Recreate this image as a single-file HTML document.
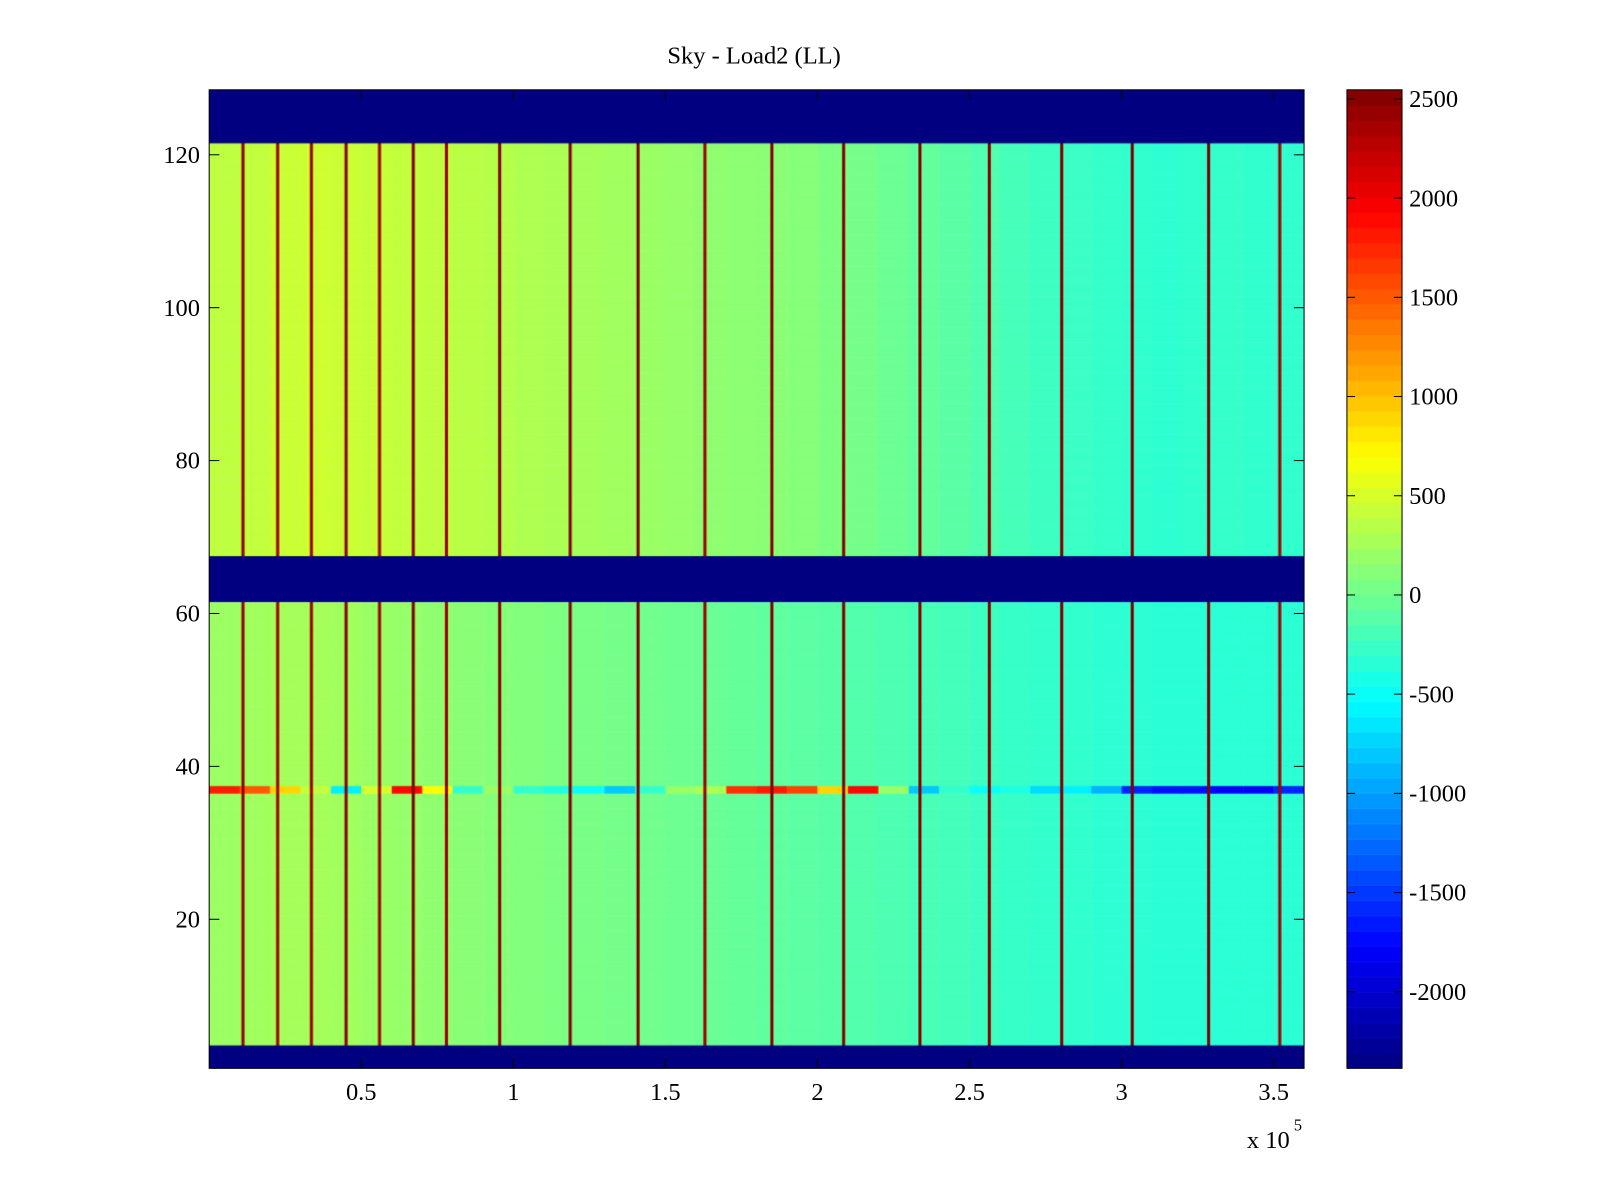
<!DOCTYPE html>
<html><head><meta charset="utf-8"><style>
body{margin:0;background:#fff;font-family:"Liberation Serif",serif;overflow:hidden}
#outer{width:1600px;height:1200px;overflow:hidden;position:relative}
#wrap{position:absolute;left:0;top:0;width:1600px;height:1200px;transform:scale(1.0204);transform-origin:0 0}
.t{position:absolute;font-size:24px;color:#000;white-space:nowrap}
</style></head><body>
<div id="outer">
<div id="wrap">
<div class="t" style="left:0;width:1478px;text-align:center;top:42px">Sky - Load2 (LL)</div>
<canvas id="hm" width="1073" height="959" style="position:absolute;left:205px;top:88px"></canvas>
<canvas id="cb" width="54" height="959" style="position:absolute;left:1320px;top:88px"></canvas>
<svg id="ax" width="1600" height="1200" style="position:absolute;left:0;top:0"></svg>
</div></div>
<script>
// ---- data ----
const xTicks=[0.5,1,1.5,2,2.5,3,3.5];
const yTicks=[20,40,60,80,100,120];
const cbTicks=[2500,2000,1500,1000,500,0,-500,-1000,-1500,-2000];
const maskedRowRanges=[[1,3],[62,67],[122,128]];
const upperLevels=[380,400,440,460,440,420,400,390,360,340,310,290,260,240,210,190,160,140,130,110,70,30,-20,-60,-100,-150,-200,-240,-250,-280,-300,-320,-300,-280,-300,-300];
const lowerLevels=[220,240,260,260,240,210,190,160,130,110,90,70,50,30,10,-10,-30,-50,-70,-90,-110,-140,-170,-190,-210,-240,-270,-290,-300,-320,-320,-340,-340,-330,-330,-330];
const row37=[1800,1500,900,400,-600,500,1900,700,-300,200,-300,-400,-500,-800,-300,200,300,1700,1800,1600,900,1900,200,-800,-300,-500,-400,-700,-600,-900,-1600,-1700,-1700,-1800,-1800,-1600];
const stripeX=[0.111,0.225,0.336,0.45,0.56,0.671,0.78,0.955,1.187,1.41,1.63,1.85,2.086,2.337,2.565,2.803,3.035,3.286,3.52];
const stripeVal=[2450,2400,2400,2500,2400,2546,2400,2500,2546,2546,2400,2500,2546,2500,2500,2500,2546,2546,2400];
// ---- scales ----
const X0=205,X1=1278,Y0=88,Y1=1047,XMAX=3.6,YMIN=0.5,YMAX=128.5,VMIN=-2386,VMAX=2546;
const sx=v=>X0+(v/XMAX)*(X1-X0);
const sy=v=>Y1-(v-YMIN)/(YMAX-YMIN)*(Y1-Y0);
function jet(t){t=Math.max(0,Math.min(1,t));
 const f=x=>Math.max(0,Math.min(1,x));
 const r=f(Math.min(4*t-1.5,-4*t+4.5)),g=f(Math.min(4*t-0.5,-4*t+3.5)),b=f(Math.min(4*t+0.5,-4*t+2.5));
 return `rgb(${Math.round(r*255)},${Math.round(g*255)},${Math.round(b*255)})`;}
const col=v=>jet((v-VMIN)/(VMAX-VMIN));
// ---- heatmap ----
const ctx=document.getElementById('hm').getContext('2d');
for(let r=1;r<=128;r++){
 const yt=sy(r+0.5)-Y0,yb=sy(r-0.5)-Y0;
 for(let c=0;c<36;c++){
  const xl=sx(c*0.1)-X0,xr=sx((c+1)*0.1)-X0;
  let v=r>67?upperLevels[c]:lowerLevels[c];
  if(r===37)v=row37[c];
  ctx.fillStyle=col(v);ctx.fillRect(xl,yt,xr-xl+0.5,yb-yt+0.5);
 }
}
stripeX.forEach((x,i)=>{ctx.fillStyle=col(stripeVal[i]);ctx.fillRect(sx(x)-X0-1.5,0,3,959);});
maskedRowRanges.forEach(([a,b])=>{ctx.fillStyle=col(VMIN);const yt=sy(b+0.5)-Y0,yb=sy(a-0.5)-Y0;ctx.fillRect(0,yt,1073,yb-yt);});
// ---- colorbar ----
const cb=document.getElementById('cb').getContext('2d');
for(let i=0;i<64;i++){const h=959/64;cb.fillStyle=jet((i+0.5)/64);cb.fillRect(0,959-(i+1)*h,54,h+0.5);}
// ---- axes ----
const svg=document.getElementById('ax');const NS='http://www.w3.org/2000/svg';
function el(tag,attrs,txt){const e=document.createElementNS(NS,tag);for(const k in attrs)e.setAttribute(k,attrs[k]);if(txt!==undefined)e.textContent=txt;svg.appendChild(e);return e;}
let e=el('rect',{x:X0,y:Y0,width:X1-X0,height:Y1-Y0,fill:'none',stroke:'#000','stroke-width':1});


xTicks.forEach(t=>{const x=sx(t);
 el('line',{x1:x,x2:x,y1:Y1,y2:Y1-10,stroke:'#000'});el('line',{x1:x,x2:x,y1:Y0,y2:Y0+10,stroke:'#000'});
 const tx=el('text',{x:x,y:1078,'text-anchor':'middle','font-size':24,'font-family':'Liberation Serif'},String(t));
 
 });
yTicks.forEach(t=>{const y=sy(t);
 el('line',{x1:X0,x2:X0+10,y1:y,y2:y,stroke:'#000'});el('line',{x1:X1,x2:X1-10,y1:y,y2:y,stroke:'#000'});
 const tx=el('text',{x:196,y:y+8,'text-anchor':'end','font-size':24,'font-family':'Liberation Serif'},String(t));
 
 });
const ex=el('text',{x:1222,y:1125,'font-size':24,'font-family':'Liberation Serif'},'x 10');


el('text',{x:1268,y:1108,'font-size':16,'font-family':'Liberation Serif'},'5');
e=el('rect',{x:1320,y:88,width:54,height:959,fill:'none',stroke:'#000'});


const cy=v=>1047-(v-VMIN)/(VMAX-VMIN)*959;
cbTicks.forEach(t=>{const y=cy(t);
 el('line',{x1:1320,x2:1328,y1:y,y2:y,stroke:'#000'});el('line',{x1:1374,x2:1366,y1:y,y2:y,stroke:'#000'});
 const tx=el('text',{x:1381,y:y+8,'font-size':24,'font-family':'Liberation Serif'},String(t));
 
 });
</script>
</body></html>
